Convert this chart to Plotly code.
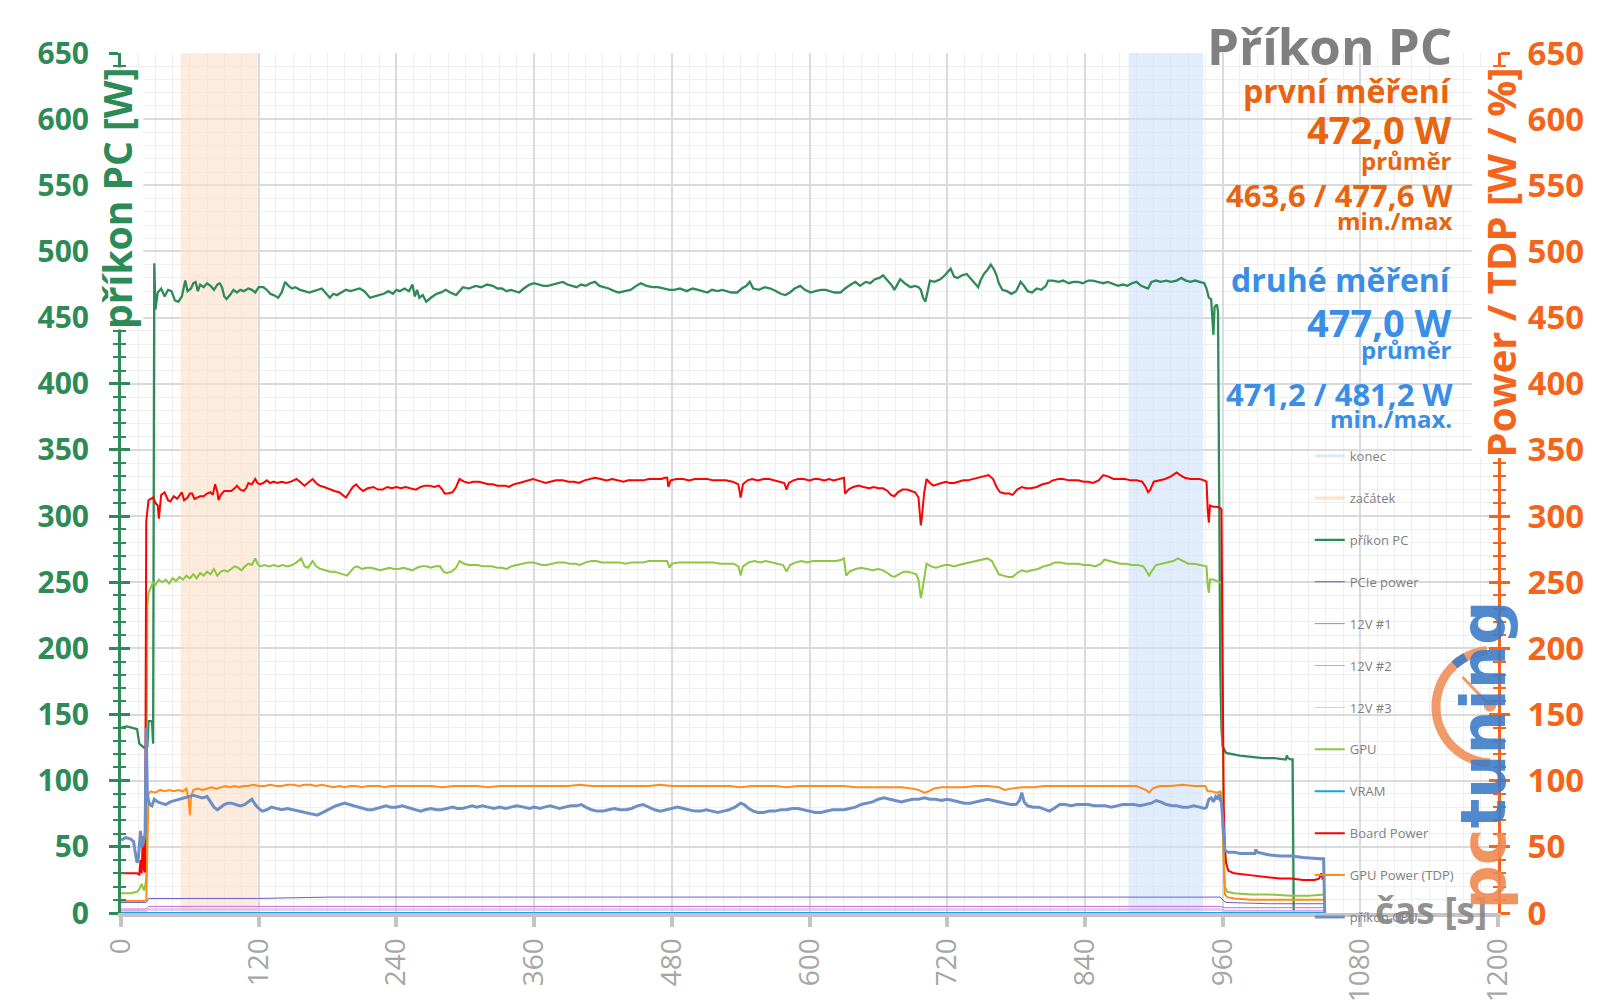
import numpy as np
import plotly.graph_objects as go

# ---------------- DATA ----------------
X_RANGE = [0, 1200]
Y_RANGE = [0, 650]
X_TICKS = [0, 120, 240, 360, 480, 600, 720, 840, 960, 1080, 1200]
Y_TICKS = list(range(0, 651, 50))

KONEC = (878, 943)     # end measurement window [s]
ZACATEK = (52, 119)    # start measurement window [s]

PRIKON_PC = [(0,140),(5,141),(10,140),(14,139),(16,128),(20,125),(23,126),(24,145),(27,145),(28,128),(29,491),(30,456),
 (32,469),(35,472),(38,466),(41,471),(44,470),(47,463),(50,462),(53,466),(56,478),(58,470),(61,472),(63,476),(65,477),
 (67,470),(69,475),(72,473),(75,476),(78,474),(81,471),(84,475),(86,476),(88,473),(90,466),(92,464),(95,467),(98,471),
 (101,469),(104,471),(107,470),(111,472),(114,471),(117,469),(120,473),(124,473),(127,471),(130,468),(133,467),(137,465),
 (140,469),(143,477),(146,474),(149,472),(152,473),(156,471),(160,470),(164,469),(168,470),(172,471),(175,472),(178,469),
 (182,465),(185,468),(188,467),(192,469),(196,471),(200,470),(204,471),(208,472),(212,470),(217,465),(221,466),(225,467),
 (229,468),(233,470),(237,468),(240,471),(243,470),(247,472),(251,470),(254,475),(256,466),(258,471),(260,465),(263,467),
 (266,462),(270,465),(275,468),(279,469),(283,471),(287,469),(292,467),(295,470),(298,473),(303,472),(309,474),(314,473),
 (319,475),(324,474),(328,472),(332,472),(336,470),(340,471),(344,470),(347,469),(351,472),(356,475),(360,476),(364,475),
 (368,474),(372,474),(377,475),(381,476),(385,477),(389,475),(393,474),(397,473),(401,475),(405,474),(409,476),(413,477),
 (417,474),(421,473),(425,472),(430,470),(434,469),(439,470),(444,471),(449,474),(453,476),(458,474),(463,473),(468,473),
 (473,472),(478,471),(482,471),(487,472),(493,470),(498,472),(503,471),(508,470),(511,469),(515,471),(520,470),(524,471),
 (528,470),(532,469),(537,469),(541,472),(545,474),(548,477),(551,472),(556,471),(561,473),(566,472),(571,470),(575,468),
 (579,467),(583,469),(587,472),(592,474),(596,471),(601,469),(605,470),(610,471),(614,471),(618,470),(622,469),(627,469),
 (631,472),(636,475),(640,477),(644,474),(649,477),(653,476),(657,479),(661,480),(664,482),(668,478),(672,474),(674,471),
 (677,476),(679,479),(683,476),(688,473),(692,474),(695,473),(697,471),(699,465),(701,462),(703,470),(705,478),(709,477),
 (714,479),(718,482),(721,485),(723,487),(726,481),(729,480),(733,482),(737,483),(741,479),(744,476),(747,473),(749,478),
 (752,483),(755,486),(758,490),(761,486),(763,482),(765,476),(768,471),(772,470),(776,468),(780,470),(784,477),(787,474),
 (790,470),(794,469),(798,472),(802,471),(806,474),(808,478),(812,478),(817,477),(821,478),(826,476),(830,477),(834,477),
 (838,476),(843,478),(847,478),(851,477),(856,476),(860,477),(865,475),(869,474),(873,475),(877,474),(881,476),(885,477),
 (889,474),(892,473),(895,472),(898,477),(902,478),(906,477),(911,478),(915,477),(920,478),(924,480),(928,478),(932,477),
 (936,478),(940,477),(944,476),(946,472),(948,465),(950,464),(951,445),(952,437),(953,458),(955,460),(956,455),(957,300),
 (958,185),(959,140),(960,126),(963,121),(968,120),(975,119),(985,118),(995,117),(1005,117),(1012,116),(1015,116),
 (1016,119),(1017,117),(1020,116),(1021,116),(1022,0),(1049,0)]

BOARD_POWER = [(0,30),(5,30),(10,30),(14,30),(16,29),(17,40),(18,30),(19,58),(20,32),(21,31),(22,296),(23,306),(24,312),
 (26,313),(28,314),(30,310),(32,308),(33,298),(35,316),(38,318),(41,312),(43,311),(46,315),(49,313),(51,316),(53,318),
 (55,312),(58,314),(60,317),(62,317),(64,313),(66,314),(69,315),(72,315),(75,317),(78,318),(80,316),(82,324),(84,318),
 (85,312),(87,316),(90,319),(93,319),(96,319),(99,321),(101,323),(104,320),(107,319),(109,321),(111,325),(114,324),
 (117,328),(119,325),(121,324),(124,325),(127,327),(130,325),(133,326),(136,325),(140,326),(144,325),(148,326),(153,328),
 (157,325),(160,323),(164,326),(167,328),(170,325),(173,323),(177,322),(182,320),(186,319),(190,318),(193,316),(196,314),
 (199,318),(202,322),(205,324),(208,321),(211,319),(215,321),(220,322),(224,320),(228,320),(232,322),(236,321),(240,322),
 (244,321),(248,322),(252,321),(257,320),(261,322),(265,323),(269,323),(273,322),(277,323),(280,320),(282,317),(285,317),
 (289,318),(292,322),(295,328),(299,326),(303,325),(307,326),(312,326),(316,325),(320,324),(324,324),(328,323),(332,323),
 (335,323),(338,322),(342,324),(347,325),(351,326),(355,327),(359,328),(363,327),(366,326),(370,325),(374,326),(379,327),
 (385,327),(390,326),(395,326),(399,325),(404,327),(409,328),(413,329),(418,328),(423,327),(428,328),(433,327),(438,326),
 (442,327),(446,327),(450,327),(455,327),(460,328),(466,328),(471,328),(474,329),(476,329),(477,322),(479,327),(484,328),
 (490,328),(495,327),(500,328),(505,328),(511,328),(516,327),(521,327),(527,327),(533,326),(538,324),(540,314),(542,324),
 (546,327),(550,328),(555,327),(560,328),(565,328),(569,327),(574,326),(578,325),(580,320),(582,325),(586,327),(590,328),
 (595,328),(600,327),(604,328),(608,328),(613,327),(617,328),(621,327),(626,328),(630,329),(631,317),(634,320),(638,322),
 (643,323),(647,322),(652,321),(656,322),(660,321),(664,321),(668,319),(671,316),(674,315),(677,318),(681,320),(685,320),
 (689,319),(692,318),(695,314),(696,306),(697,293),(698,300),(700,318),(702,328),(705,325),(708,323),(711,324),(715,325),
 (719,326),(722,325),(726,325),(730,326),(734,327),(738,327),(743,328),(747,329),(752,330),(756,331),(760,328),(763,322),
 (766,318),(770,317),(774,317),(777,316),(781,320),(785,322),(789,321),(793,321),(798,322),(803,324),(808,325),(812,327),
 (817,328),(821,328),(826,327),(830,327),(834,327),(839,326),(843,326),(847,325),(852,327),(856,331),(860,330),(865,328),
 (870,328),(875,328),(880,327),(885,327),(890,326),(893,322),(895,318),(897,320),(900,326),(905,327),(910,328),(915,330),
 (920,333),(923,331),(927,329),(932,328),(936,328),(940,328),(944,327),(946,326),(947,305),(948,295),(949,308),(952,307),
 (955,307),(958,306),(959,305),(960,200),(961,80),(962,50),(963,38),(965,32),(970,30),(980,29),(990,28),(1000,27),
 (1010,26),(1020,26),(1030,25),(1040,25),(1044,26),(1046,30),(1047,26),(1049,27)]

GPU = [(0,15),(8,15),(14,16),(16,18),(18,22),(20,17),(21,20),(22,26),(23,232),(24,242),(26,246),(28,250),(30,248),(33,252),
 (36,250),(39,252),(42,249),(45,253),(48,251),(51,254),(54,252),(57,255),(60,253),(63,256),(66,253),(69,257),(72,255),
 (75,258),(78,256),(81,260),(84,255),(87,258),(90,259),(93,258),(96,260),(99,262),(102,261),(105,259),(108,262),(111,264),
 (114,263),(117,268),(119,264),(121,262),(125,263),(129,262),(133,263),(137,262),(141,263),(145,262),(149,263),(153,265),
 (157,268),(160,262),(163,261),(167,266),(170,262),(174,260),(178,259),(182,258),(186,258),(190,257),(194,256),(197,255),
 (200,258),(203,261),(206,262),(210,260),(214,261),(218,261),(222,260),(226,259),(230,260),(234,261),(238,260),(242,260),
 (246,261),(250,260),(254,259),(258,261),(262,262),(266,262),(270,261),(274,262),(278,262),(281,258),(284,257),(288,258),
 (292,261),(295,266),(299,264),(303,263),(307,263),(311,263),(315,262),(319,262),(323,262),(328,261),(332,261),(336,260),
 (340,262),(345,263),(350,264),(355,265),(359,265),(363,264),(367,263),(371,263),(376,264),(381,265),(386,265),(391,264),
 (396,264),(400,263),(405,265),(410,266),(414,266),(419,265),(424,265),(429,265),(434,265),(440,264),(445,265),(450,265),
 (455,265),(460,266),(466,266),(471,266),(476,266),(478,261),(480,264),(486,265),(492,265),(498,265),(504,265),(510,265),
 (516,265),(522,264),(528,264),(534,264),(538,262),(540,255),(542,262),(547,265),(552,266),(557,265),(562,266),(567,265),
 (572,264),(577,263),(580,258),(583,263),(588,265),(593,266),(598,265),(603,266),(608,266),(613,266),(618,266),(623,266),
 (628,267),(630,268),(632,255),(635,258),(640,260),(645,261),(650,260),(655,259),(660,260),(664,259),(668,257),(671,255),
 (674,254),(678,256),(682,258),(686,258),(690,257),(693,256),(695,252),(696,245),(697,238),(698,242),(700,255),(702,264),
 (706,262),(710,261),(714,262),(718,263),(722,263),(726,262),(730,263),(735,264),(740,265),(745,266),(750,267),(755,268),
 (759,266),(762,261),(765,256),(769,255),(773,254),(777,254),(781,257),(785,259),(789,258),(794,259),(799,260),(804,262),
 (809,263),(814,265),(819,265),(824,264),(829,264),(834,264),(839,263),(844,263),(849,262),(854,264),(857,267),(861,266),
 (866,265),(871,264),(876,264),(881,263),(886,263),(891,262),(894,258),(896,255),(898,258),(902,263),(907,264),(912,265),
 (917,266),(921,268),(925,266),(930,264),(935,264),(940,263),(944,262),(946,262),(947,248),(948,242),(949,252),(952,252),
 (955,251),(958,250),(959,248),(960,150),(961,40),(962,20),(964,16),(970,15),(985,14),(1000,14),(1020,13),(1035,13),
 (1045,14),(1049,14)]

GPU_TDP = [(0,9),(10,9),(20,9),(22,10),(23,60),(24,90),(26,92),(30,91),(34,93),(38,92),(42,93),(46,92),(50,93),(54,92),
 (57,94),(59,85),(60,74),(61,88),(63,93),(67,94),(71,93),(75,94),(79,95),(83,94),(87,95),(91,96),(95,95),(99,96),(103,95),
 (107,96),(111,96),(115,97),(120,96),(125,96),(130,97),(135,96),(140,96),(145,97),(150,97),(155,96),(160,97),(165,97),
 (170,96),(175,97),(180,96),(185,95),(190,96),(195,95),(200,96),(205,96),(210,95),(215,96),(220,96),(225,96),(230,95),
 (235,96),(240,96),(250,96),(260,96),(270,96),(280,95),(290,96),(300,96),(310,96),(320,95),(330,96),(340,96),(350,96),
 (360,96),(370,96),(380,96),(390,96),(400,97),(410,96),(420,96),(430,96),(440,96),(450,96),(460,96),(470,97),(480,96),
 (490,96),(500,96),(510,96),(520,96),(530,96),(540,95),(550,96),(560,96),(570,96),(580,95),(590,96),(600,96),(610,96),
 (620,96),(630,96),(640,95),(650,95),(660,95),(670,95),(680,95),(690,94),(695,93),(700,91),(704,92),(708,94),(715,95),
 (725,95),(735,95),(745,96),(755,96),(765,95),(770,93),(775,94),(785,95),(795,95),(805,96),(815,96),(825,96),(835,96),
 (845,96),(855,96),(865,96),(875,96),(885,96),(893,93),(896,91),(899,94),(905,96),(915,96),(925,97),(935,96),(945,96),
 (947,92),(950,92),(955,91),(958,92),(959,90),(960,60),(961,25),(962,14),(964,12),(970,11),(985,10),(1000,10),(1020,10),
 (1035,10),(1049,10)]

PRIKON_CPU = [(0,55),(4,57),(8,56),(11,54),(12,48),(14,38),(15,40),(16,55),(17,62),(18,50),(19,52),(20,56),(21,60),(22,140),
 (23,88),(25,82),(27,81),(29,86),(32,84),(35,83),(39,82),(43,84),(47,85),(51,86),(55,87),(59,88),(63,89),(67,88),(71,87),
 (75,88),(78,84),(81,80),(84,78),(87,80),(90,82),(93,83),(96,83),(100,82),(104,81),(108,82),(111,84),(114,86),(117,82),
 (120,79),(123,77),(127,78),(131,80),(135,79),(140,78),(145,79),(150,78),(155,77),(160,76),(165,75),(171,74),(176,76),
 (180,78),(183,79),(187,81),(191,82),(195,83),(199,82),(203,81),(207,80),(211,79),(215,78),(219,78),(223,79),(227,80),
 (231,81),(235,80),(240,80),(245,81),(249,80),(253,79),(257,78),(261,77),(265,78),(270,79),(275,78),(279,78),(284,79),
 (289,80),(293,79),(297,79),(302,80),(306,81),(310,80),(315,81),(320,80),(325,79),(330,80),(335,79),(340,80),(345,81),
 (351,80),(356,79),(360,80),(365,79),(369,80),(374,81),(378,80),(382,79),(387,80),(392,81),(397,81),(401,82),(405,80),
 (410,78),(415,77),(420,77),(425,78),(430,79),(435,78),(440,78),(445,79),(450,81),(455,82),(460,80),(465,78),(470,77),
 (475,78),(480,79),(485,80),(490,79),(495,78),(500,77),(505,77),(510,78),(515,77),(520,76),(525,77),(530,78),(535,80),
 (540,83),(543,82),(547,79),(551,77),(555,76),(560,76),(565,77),(570,77),(575,78),(580,78),(585,79),(590,79),(595,78),
 (600,77),(605,76),(610,76),(615,77),(620,78),(625,78),(630,78),(635,79),(640,80),(645,82),(650,83),(655,84),(660,86),
 (665,87),(670,86),(675,85),(680,84),(685,85),(690,86),(695,86),(700,87),(705,86),(710,86),(715,85),(720,86),(725,85),
 (730,84),(735,83),(740,83),(745,84),(750,85),(755,86),(760,85),(765,84),(770,83),(775,82),(780,82),(783,85),(785,91),
 (787,84),(790,81),(795,80),(800,80),(805,78),(809,77),(813,79),(818,82),(823,82),(828,81),(833,82),(838,82),(843,82),
 (848,81),(853,81),(858,81),(863,80),(868,81),(873,82),(878,82),(883,82),(888,81),(893,82),(898,83),(902,85),(906,84),
 (911,82),(916,81),(920,81),(925,80),(930,80),(935,81),(940,80),(944,79),(946,80),(948,86),(950,87),(952,84),(954,88),
 (956,86),(957,90),(958,85),(959,84),(960,70),(961,55),(962,47),(965,46),(970,46),(975,45),(980,45),(985,45),(988,45),
 (989,48),(990,46),(995,45),(1000,44),(1010,43),(1020,43),(1030,42),(1040,41),(1045,41),(1048,41),(1049,0)]

PCIE_POWER = [(0,8),(10,8),(20,8),(22,8),(24,11),(30,11),(60,11),(120,11),(180,12),(240,12),(300,12),(360,12),(420,12),
 (480,12),(540,12),(600,12),(660,12),(720,12),(780,12),(840,12),(900,12),(945,12),(958,12),(961,9),(963,8),(1000,7),(1049,7)]
V12_1 = [(0,3),(22,3),(24,5),(958,5),(962,4),(1049,4)]
V12_2 = [(0,2),(22,2),(24,3),(958,3),(962,2),(1049,2)]
V12_3 = [(0,1),(22,1),(24,2),(958,2),(962,1),(1049,1)]
VRAM = [(0,0),(1049,0)]

# ---------------- STYLE ----------------
GREEN = '#2E8B57'
ORANGE_AX = '#F4641A'
TXT_ORANGE = '#E8640E'
TXT_BLUE = '#3A8EE6'
GRAY = '#808080'
FONT = 'Open Sans'

W, H = 1600, 1008
ML, MR, MT, MB = 113, 110, 45, 103
PW, PH = W - ML - MR, H - MT - MB


# layout positions below were measured on the reference view; convert them to page pixels
def rx(p):
    return (p - 6) / 0.9825


def ry(p):
    return (p - 9) / 0.979


def pxx(p):
    return (rx(p) - ML) / PW


def pxy(p):
    return (H - MB - ry(p)) / PH


fig = go.Figure()

# measurement windows (bands) with line-type legend entries
for name, (a, b), fillc, linec in [
        ('konec', KONEC, 'rgba(206,226,250,0.62)', '#DCEAF8'),
        ('začátek', ZACATEK, 'rgba(252,224,200,0.62)', '#FCE2CC')]:
    fig.add_trace(go.Scatter(x=[None], y=[None], mode='lines', name=name, legendgroup=name,
                             line=dict(color=linec, width=3)))
    fig.add_trace(go.Scatter(x=[a, a, b, b, a], y=[Y_RANGE[0], Y_RANGE[1], Y_RANGE[1], Y_RANGE[0], Y_RANGE[0]],
                             mode='lines', fill='toself', fillcolor=fillc, line=dict(width=0),
                             showlegend=False, legendgroup=name, hoverinfo='skip'))

series = [
    ('příkon PC', PRIKON_PC, '#2E8B57', 2.3),
    ('PCIe power', PCIE_POWER, '#6A5ACD', 1.0),
    ('12V #1', V12_1, '#C86BD0', 1.0),
    ('12V #2', V12_2, '#C99BEF', 1.0),
    ('12V #3', V12_3, '#DCC6F3', 1.0),
    ('GPU', GPU, '#8DC641', 2.0),
    ('VRAM', VRAM, '#1BA1E2', 2.0),
    ('Board Power', BOARD_POWER, '#FF0000', 2.0),
    ('GPU Power (TDP)', GPU_TDP, '#FF8C1A', 2.0),
    ('příkon CPU', PRIKON_CPU, '#6D8FC6', 3.0),
]
for name, data, color, width in series:
    t, v = zip(*data)
    fig.add_trace(go.Scatter(x=list(t), y=list(v), mode='lines', name=name, legendgroup=name,
                             line=dict(color=color, width=width)))

# invisible traces to activate the overlay axes used for crossing ticks
fig.add_trace(go.Scatter(x=[None], y=[None], yaxis='y3', showlegend=False, hoverinfo='skip'))
fig.add_trace(go.Scatter(x=[None], y=[None], yaxis='y4', showlegend=False, hoverinfo='skip'))
fig.add_trace(go.Scatter(x=[None], y=[None], yaxis='y2', showlegend=False, hoverinfo='skip'))

tickfont_l = dict(family=FONT, size=30, color=GREEN, weight='bold')
tickfont_r = dict(family=FONT, size=33, color=ORANGE_AX, weight='bold')

fig.update_layout(
    width=W, height=H,
    margin=dict(l=ML, r=MR, t=MT, b=MB, autoexpand=False),
    paper_bgcolor='white', plot_bgcolor='white',
    font=dict(family=FONT),
    showlegend=True,
    legend=dict(x=pxx(1285), y=pxy(433), xanchor='left', yanchor='top',
                bgcolor='rgba(0,0,0,0)', font=dict(family=FONT, size=13, color='#7F7F7F'),
                tracegroupgap=22, itemwidth=30),
    xaxis=dict(range=X_RANGE, tickvals=X_TICKS, tickangle=-90, automargin=False,
               tickfont=dict(family=FONT, size=28, color='#A6A6A6'),
               showgrid=True, gridcolor='#D9DBE2', gridwidth=2,
               minor=dict(dtick=15, tick0=0, showgrid=True, gridcolor='#EFEFEF', gridwidth=1),
               showline=True, linecolor='#C4C4C4', linewidth=4,
               ticks='outside', ticklen=10, tickwidth=4, tickcolor='#C4C4C4',
               zeroline=False),
    yaxis=dict(range=Y_RANGE, tickvals=Y_TICKS, tickfont=tickfont_l, automargin=False,
               showgrid=True, gridcolor='#DADADA', gridwidth=2,
               minor=dict(dtick=10, tick0=0, showgrid=True, gridcolor='#EFEFEF', gridwidth=1,
                          ticks='outside', ticklen=5, tickwidth=2, tickcolor=GREEN),
               showline=True, linecolor=GREEN, linewidth=3,
               ticks='outside', ticklen=9, tickwidth=3, tickcolor=GREEN,
               ticklabelstandoff=14, zeroline=False),
    yaxis3=dict(range=Y_RANGE, tickvals=Y_TICKS, overlaying='y', side='left', automargin=False,
                showticklabels=False, showgrid=False, zeroline=False, showline=False,
                ticks='inside', ticklen=9, tickwidth=3, tickcolor=GREEN,
                minor=dict(dtick=10, tick0=0, ticks='inside', ticklen=5, tickwidth=2, tickcolor=GREEN)),
    yaxis2=dict(range=Y_RANGE, tickvals=Y_TICKS, overlaying='y', side='right', tickfont=tickfont_r,
                automargin=False, showgrid=False, zeroline=False,
                showline=True, linecolor=ORANGE_AX, linewidth=3,
                ticks='outside', ticklen=9, tickwidth=3, tickcolor=ORANGE_AX,
                minor=dict(dtick=10, tick0=0, ticks='outside', ticklen=5, tickwidth=2, tickcolor=ORANGE_AX),
                ticklabelstandoff=11),
    yaxis4=dict(range=Y_RANGE, tickvals=Y_TICKS, overlaying='y', side='right', automargin=False,
                showticklabels=False, showgrid=False, zeroline=False, showline=False,
                ticks='inside', ticklen=9, tickwidth=3, tickcolor=ORANGE_AX,
                minor=dict(dtick=10, tick0=0, ticks='inside', ticklen=5, tickwidth=2, tickcolor=ORANGE_AX)),
)

# ---------------- TEXT BLOCKS ----------------
texts = [
    ('Příkon PC', GRAY, 51, 45),
    ('první měření', TXT_ORANGE, 32, 90),
    ('472,0 W', TXT_ORANGE, 38, 127),
    ('průměr', TXT_ORANGE, 24, 158),
    ('463,6 / 477,6 W', TXT_ORANGE, 31, 192),
    ('min./max', TXT_ORANGE, 24, 217),
    ('druhé měření', TXT_BLUE, 32, 275),
    ('477,0 W', TXT_BLUE, 38, 316),
    ('průměr', TXT_BLUE, 24, 343),
    ('471,2 / 481,2 W', TXT_BLUE, 31, 387),
    ('min./max.', TXT_BLUE, 24, 411),
]
for txt, col, size, ypx in texts:
    fig.add_annotation(text=txt, xref='paper', yref='paper', x=pxx(1427), y=pxy(ypx),
                       xanchor='right', yanchor='middle', showarrow=False,
                       font=dict(family=FONT, size=size, color=col, weight='bold'))

# axis titles drawn over the axis lines
fig.add_annotation(text='příkon PC [W]', xref='paper', yref='paper', x=pxx(113), y=pxy(195),
                   xanchor='center', yanchor='middle',
                   textangle=-90, showarrow=False, bgcolor='white', borderpad=0,
                   font=dict(family=FONT, size=39, color=GREEN, weight='bold'))
fig.add_annotation(text='Power / TDP [W / %]', xref='paper', yref='paper', x=pxx(1472), y=pxy(258),
                   xanchor='center', yanchor='middle',
                   textangle=-90, showarrow=False, bgcolor='white', borderpad=0,
                   font=dict(family=FONT, size=40, color=ORANGE_AX, weight='bold'))
fig.add_annotation(text='čas [s]', xref='paper', yref='paper', x=pxx(1461), y=pxy(892),
                   xanchor='right', yanchor='middle', showarrow=False, opacity=0.85,
                   font=dict(family=FONT, size=37, color=GRAY, weight='bold'))

# ---------------- WATERMARK LOGO ----------------
fig.add_annotation(text="<span style='color:#EF8A52'>pc</span><span style='color:#3F7DC8'>tuning</span>",
                   xref='paper', yref='paper', x=pxx(1456), y=pxy(740), textangle=-90,
                   xanchor='center', yanchor='middle',
                   showarrow=False, opacity=0.9,
                   font=dict(family='DejaVu Sans', size=62, weight='bold'))
cx, cy, r = 1464, 693, 55
ang = np.radians(np.linspace(95, 268, 40))
arc = 'M ' + ' L '.join(f'{pxx(cx + r*np.cos(a)):.5f},{pxy(cy - r*np.sin(a)):.5f}' for a in ang)
fig.add_shape(type='path', path=arc, xref='paper', yref='paper',
              line=dict(color='#EF8A52', width=9), opacity=0.85, layer='above')
ang2 = np.radians(np.linspace(118, 132, 6))
arc2 = 'M ' + ' L '.join(f'{pxx(cx + r*np.cos(a)):.5f},{pxy(cy - r*np.sin(a)):.5f}' for a in ang2)
fig.add_shape(type='path', path=arc2, xref='paper', yref='paper',
              line=dict(color='#3F7DC8', width=9), opacity=0.9, layer='above')
fig.add_shape(type='line', xref='paper', yref='paper', x0=pxx(1435), y0=pxy(664), x1=pxx(1461), y1=pxy(691),
              line=dict(color='#EF8A52', width=3), opacity=0.85, layer='above')
fig.add_shape(type='circle', xref='paper', yref='paper', x0=pxx(1456), y0=pxy(686), x1=pxx(1468), y1=pxy(698),
              fillcolor='#EF8A52', line=dict(width=0), opacity=0.85, layer='above')

fig.write_html('out.html')
